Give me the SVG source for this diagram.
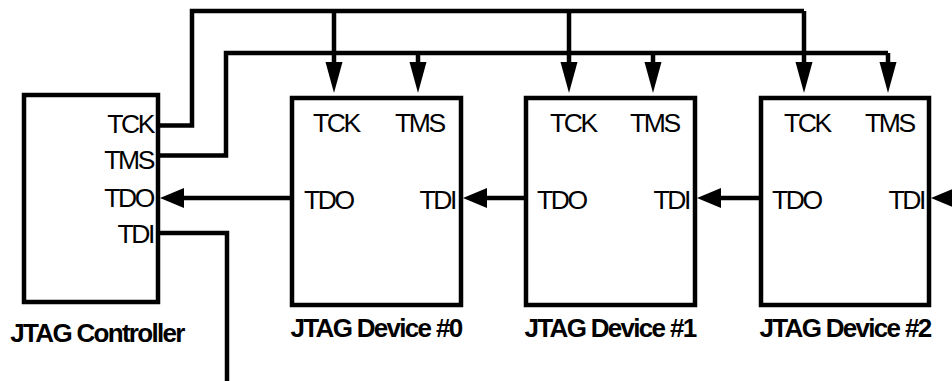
<svg xmlns="http://www.w3.org/2000/svg" width="952" height="381" viewBox="0 0 952 381">
<style>
.box{fill:#fff;stroke:#000;stroke-width:4.5;stroke-linejoin:miter}
.w{fill:none;stroke:#000;stroke-width:4.5;stroke-linejoin:miter}
.pin{font-family:"Liberation Sans",Arial,sans-serif;font-size:26.5px;letter-spacing:-2.4px;fill:#000}
.ttl{font-family:"Liberation Sans",Arial,sans-serif;font-size:26px;font-weight:bold;letter-spacing:-1.7px;fill:#000}
.ah{fill:#000;stroke:none}
</style>
<rect width="952" height="381" fill="#fff"/>
<g id="connectors">
<path class="w" d="M158 125.5 H192 V11 H804 M569 11 V64 M334 11 V64 M804 11 V64"/>
<path class="w" d="M158 155.5 H226 V53 H888 M418 53 V64 M653 53 V64 M888 53 V64"/>
<path class="w" d="M227 381 V233 H158"/>
<path class="w" d="M292 198 H180 M526 198 H482 M761 198 H717"/>
<polygon class="ah" points="325.5,62 342.5,62 334,93"/>
<polygon class="ah" points="409.5,62 426.5,62 418,93"/>
<polygon class="ah" points="560.5,62 577.5,62 569,93"/>
<polygon class="ah" points="644.5,62 661.5,62 653,93"/>
<polygon class="ah" points="795.5,62 812.5,62 804,93"/>
<polygon class="ah" points="879.5,62 896.5,62 888,93"/>
<polygon class="ah" points="160,198 184,188 184,208"/>
<polygon class="ah" points="463,198 487,188 487,208"/>
<polygon class="ah" points="697,198 721,188 721,208"/>
<polygon class="ah" points="931,198 955,188 955,208"/>
</g>
<g id="controller">
<rect class="box" x="24" y="95" width="134" height="207"/>
<text class="pin" x="153" y="133" text-anchor="end">TCK</text>
<text class="pin" x="153" y="169" text-anchor="end">TMS</text>
<text class="pin" x="153" y="207" text-anchor="end">TDO</text>
<text class="pin" x="153" y="243" text-anchor="end">TDI</text>
<text class="ttl" x="97" y="342" text-anchor="middle">JTAG Controller</text>
</g>
<g id="device0">
<rect class="box" x="292" y="98" width="169" height="207"/>
<text class="pin" x="313" y="132">TCK</text>
<text class="pin" x="395" y="132">TMS</text>
<text class="pin" x="304" y="209">TDO</text>
<text class="pin" x="455" y="209" text-anchor="end">TDI</text>
<text class="ttl" x="376" y="337" text-anchor="middle">JTAG Device #0</text>
</g>
<g id="device1">
<rect class="box" x="526" y="98" width="169" height="207"/>
<text class="pin" x="550" y="132">TCK</text>
<text class="pin" x="630" y="132">TMS</text>
<text class="pin" x="537" y="209">TDO</text>
<text class="pin" x="689" y="209" text-anchor="end">TDI</text>
<text class="ttl" x="610" y="337" text-anchor="middle">JTAG Device #1</text>
</g>
<g id="device2">
<rect class="box" x="761" y="98" width="168" height="207"/>
<text class="pin" x="784" y="132">TCK</text>
<text class="pin" x="865" y="132">TMS</text>
<text class="pin" x="772" y="209">TDO</text>
<text class="pin" x="924" y="209" text-anchor="end">TDI</text>
<text class="ttl" x="845" y="337" text-anchor="middle">JTAG Device #2</text>
</g>
</svg>
